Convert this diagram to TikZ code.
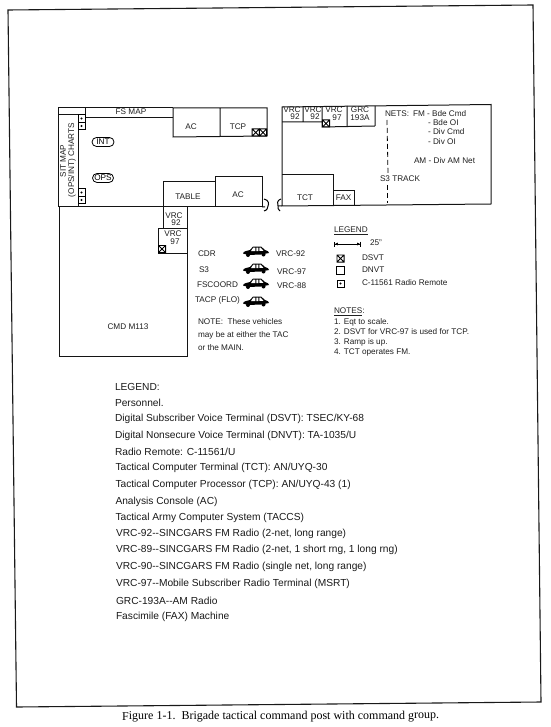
\documentclass[tikz,border=0pt]{standalone}
\usepackage{fontspec}
\usetikzlibrary{arrows.meta}
\setmainfont{Liberation Sans}
\newfontfamily\capfont{Liberation Serif}
\tikzset{
  wall/.style={line width=1pt,draw=black!92,line join=miter},
  lab/.style={inner sep=0pt,outer sep=0pt,font=\fontsize{8.2}{9}\selectfont,text=black!88},
  labw/.style={lab,anchor=west},
  big/.style={inner sep=0pt,outer sep=0pt,anchor=west,font=\fontsize{10.2}{11}\selectfont,text=black!90},
  dsvt/.pic={\draw[line width=0.8pt] (-3.6,-3.6) rectangle (3.6,3.6) (-3.6,-3.6) -- (3.6,3.6) (-3.6,3.6) -- (3.6,-3.6);},
  remote/.pic={\draw[line width=0.8pt] (-3.6,-3.6) rectangle (3.6,3.6); \fill (0,0) circle (1.2);},
  car/.pic={
    \fill (-13,1.5) .. controls (-13,-0.5) and (-9,-1.5) .. (-6,-2) -- (-3,-5.5) -- (5,-5.5) -- (9,-2) .. controls (12,-1.5) and (13,0) .. (13,1) -- (5,2.5) -- (-8,3) -- cycle;
    \fill (-8,3) circle (2) (7.5,2.5) circle (2);
    \fill[white] (-2.6,-4.5) -- (-0.6,-4.5) -- (-0.6,-1) -- (-5,-1) -- cycle (0.4,-4.5) -- (2.4,-4.5) -- (2.4,-1) -- (0.4,-1) -- cycle (3.4,-4.5) -- (4.6,-4.5) -- (7.4,-1.2) -- (3.4,-1.2) -- cycle;
  }
}
\begin{document}
\begin{tikzpicture}[x=1pt,y=-1pt]
\useasboundingbox (0,0) rectangle (550,727);
% page frame
\draw[line width=1.1pt,draw=black!90] (8,10) -- (533,5) -- (541,702) -- (16.5,707) -- cycle;
% left part of the plan
\draw[wall] (173,108) -- (58,108) -- (58,207) -- (262,207);
\draw[wall] (58,114.5) -- (85,114.5) (78,114.5) -- (78,207) (85,108) -- (85,118) -- (173,118);
\draw[wall] (173,108) -- (267,108) -- (267,136) -- (173,137) -- cycle (220,108) -- (220,136.5);
\draw[wall] (163,207) -- (163,182) -- (215,182) -- (215,177) -- (262,177) -- (262,207) (215,182) -- (215,207);
\draw[wall] (59,207) -- (59,356) -- (187,356) -- (187,207);
\draw[wall] (163,207) -- (163,228) -- (187,228) (158,228) -- (163,228) (158,228) -- (158,253) -- (187,253);
% right part of the plan
\draw[wall] (282,107) -- (282,206) -- (491,204) -- (491,104.5) -- cycle (278,206) -- (282,206);
\draw[wall] (282,122) -- (322,122) (303,107) -- (303,122) (322,106.5) -- (322,127) -- (375,126) (347,106) -- (347,126.5) (375,106) -- (375,126);
\draw[wall] (282,175) -- (333,175) -- (333,205.5) (333,191) -- (354,191) -- (354,205);
% flap brackets
\draw[line width=1pt] (262,207) -- (265,207) (264,199) .. controls (269,200) and (269,204) .. (268,206) .. controls (267,208) and (268,210) .. (264,211);
\draw[line width=1pt] (281,199) .. controls (277,200) and (277,204) .. (278,206) .. controls (279,208) and (277,210) .. (280,211);
% S3 track
\draw[line width=0.8pt,dash pattern=on 5pt off 3pt] (387,120) -- (388,174);
\draw[line width=0.8pt,dash pattern=on 5pt off 3pt] (387,185) -- (387,203);
% radio remotes, terminals
\pic at (81.5,118.5) {remote}; \pic at (81.5,126) {remote};
\pic at (81.5,192.5) {remote}; \pic at (81.5,200) {remote};
\pic at (255.7,132.5) {dsvt}; \pic at (263,132.5) {dsvt};
\pic at (326,123.5) {dsvt};
\pic at (162,249) {dsvt};
% people
\node[draw,rounded corners=4.5pt,line width=0.8pt,minimum width=22pt,minimum height=9pt,inner sep=0pt,font=\fontsize{8.2}{9}\selectfont] (int) at (103,142) {INT};
\node[draw,rounded corners=4.5pt,line width=0.8pt,minimum width=21pt,minimum height=9pt,inner sep=0pt,font=\fontsize{8.2}{9}\selectfont] (ops) at (103,178) {OPS};
% plan labels
\node[lab] (fsmap) at (131,112) {FS MAP};
\node[lab,rotate=90] (sitmap) at (63,161) {SIT MAP};
\node[lab,rotate=90] (charts) at (72,160) {(OPS/INT) CHARTS};
\node[lab] (ac1) at (191,127) {AC};
\node[lab] (tcp) at (238,126.5) {TCP};
\node[lab] (table) at (188,197) {TABLE};
\node[lab] (ac2) at (238,195) {AC};
\node[lab] (tct) at (305,198) {TCT};
\node[lab] (fax) at (343.5,198) {FAX};
\node[lab] (v1a) at (292,110) {VRC}; \node[lab] (v1b) at (295,117) {92};
\node[lab] (v2a) at (313,110) {VRC}; \node[lab] (v2b) at (315,117) {92};
\node[lab] (v3a) at (334,110) {VRC}; \node[lab] (v3b) at (337,118) {97};
\node[lab] (g1a) at (360,110) {GRC}; \node[lab] (g1b) at (360,118) {193A};
\node[labw] (nets) at (385,114) {NETS:};
\node[labw] (n1) at (413,114) {FM - Bde Cmd};
\node[labw] (n2) at (428,123) {- Bde OI};
\node[labw] (n3) at (428,132) {- Div Cmd};
\node[labw] (n4) at (428,142) {- Div OI};
\node[labw] (n5) at (414,161) {AM - Div AM Net};
\node[labw] (s3t) at (380,179) {S3 TRACK};
\node[lab] (v4a) at (174,216) {VRC}; \node[lab] (v4b) at (176,223) {92};
\node[lab] (v5a) at (173,234) {VRC}; \node[lab] (v5b) at (175,241.5) {97};
\node[lab] (cmd) at (128,327) {CMD M113};
% vehicles
\node[labw] (cdr) at (198,254) {CDR};
\node[labw] (s3) at (199,270) {S3};
\node[labw] (fsc) at (197,285) {FSCOORD};
\node[labw] (tacp) at (195,300) {TACP (FLO)};
\pic at (256,252) {car}; \pic at (256,269) {car}; \pic at (256,284) {car}; \pic at (256,302) {car};
\node[labw] (r1) at (276,254) {VRC-92};
\node[labw] (r2) at (277,272) {VRC-97};
\node[labw] (r3) at (277,286) {VRC-88};
\node[labw] (no1) at (198,322) {NOTE:\ \ These vehicles};
\node[labw] (no2) at (198,335) {may be at either the TAC};
\node[labw] (no3) at (198,348) {or the MAIN.};
% plan legend
\node[labw] (leg) at (334,231) {\underline{LEGEND}};
\coordinate (sa) at (334,244); \coordinate (sb) at (361,244);
\draw[line width=0.8pt,{Bar[width=5pt]Latex[length=3pt,width=3pt]}-{Latex[length=3pt,width=3pt]Bar[width=5pt]}] (sa) -- (sb);
\node[labw] (sc) at (370,243) {25"};
\pic at (340.5,258.5) {dsvt};
\draw[line width=0.8pt] (336.5,266) rectangle (344.5,274);
\pic at (340.5,283.5) {remote};
\node[labw] (l1) at (362,258) {DSVT};
\node[labw] (l2) at (362,270) {DNVT};
\node[labw] (l3) at (362,283) {C-11561 Radio Remote};
\node[labw] (nt) at (334,312) {\underline{NOTES}:};
\node[labw] (nt1) at (334,322) {1. Eqt to scale.};
\node[labw] (nt2) at (334,332) {2. DSVT for VRC-97 is used for TCP.};
\node[labw] (nt3) at (334,342) {3. Ramp is up.};
\node[labw] (nt4) at (334,352) {4. TCT operates FM.};
% main legend
\node[big] (b01) at (115,387) {LEGEND:};
\node[big] (b02) at (115,403) {Personnel.};
\node[big] (b03) at (115,419) {Digital Subscriber Voice Terminal (DSVT): TSEC/KY-68};
\node[big] (b04) at (115,435.5) {Digital Nonsecure Voice Terminal (DNVT): TA-1035/U};
\node[big] (b05) at (115,452) {Radio Remote: C-11561/U};
\node[big] (b06) at (115.5,468) {Tactical Computer Terminal (TCT): AN/UYQ-30};
\node[big] (b07) at (115.5,485) {Tactical Computer Processor (TCP): AN/UYQ-43 (1)};
\node[big] (b08) at (115.5,502) {Analysis Console (AC)};
\node[big] (b09) at (115.5,518) {Tactical Army Computer System (TACCS)};
\node[big] (b10) at (116,534) {VRC-92-{}-SINCGARS FM Radio (2-net, long range)};
\node[big] (b11) at (116,550) {VRC-89-{}-SINCGARS FM Radio (2-net, 1 short rng, 1 long rng)};
\node[big] (b12) at (116,567) {VRC-90-{}-SINCGARS FM Radio (single net, long range)};
\node[big] (b13) at (116,584) {VRC-97-{}-Mobile Subscriber Radio Terminal (MSRT)};
\node[big] (b14) at (116,601) {GRC-193A-{}-AM Radio};
\node[big] (b15) at (116,617) {Fascimile (FAX) Machine};
% caption
\node[inner sep=0pt,anchor=base west,rotate=0.2,font=\capfont\fontsize{12}{14}\selectfont] (cap) at (122,720) {Figure 1-1.\ \ Brigade tactical command post with command group.};
\end{tikzpicture}
\end{document}
